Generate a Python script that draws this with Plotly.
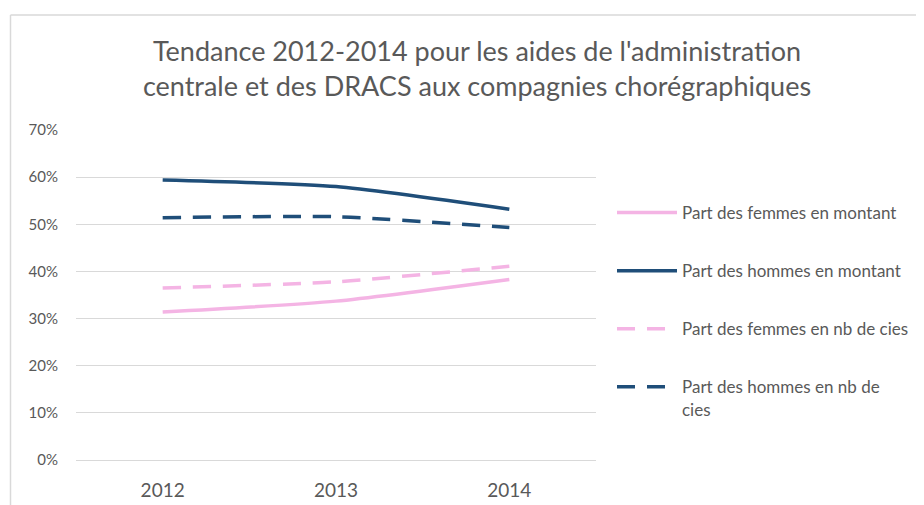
import plotly.graph_objects as go

years = ["2012", "2013", "2014"]
femmes_montant = [0.314, 0.337, 0.383]
hommes_montant = [0.594, 0.580, 0.532]
femmes_nb = [0.365, 0.378, 0.411]
hommes_nb = [0.514, 0.516, 0.493]
series_names = [
    "Part des femmes en montant",
    "Part des hommes en montant",
    "Part des femmes en nb de cies",
    "Part des hommes en nb de<br>cies",
]
y_ticks = [0, 0.1, 0.2, 0.3, 0.4, 0.5, 0.6, 0.7]

PINK = "#F4B4E4"
NAVY = "#1F4E79"
GRAY = "#595959"
FONT = "Lato"

fig = go.Figure()
styles = [
    (femmes_montant, PINK, "solid"),
    (hommes_montant, NAVY, "solid"),
    (femmes_nb, PINK, "18px,12px"),
    (hommes_nb, NAVY, "18px,12px"),
]
for i, (vals, col, dash) in enumerate(styles):
    fig.add_trace(go.Scatter(
        x=years, y=vals, mode="lines", name=series_names[i],
        legendgroup=f"g{i}",
        line=dict(color=col, width=3.5, dash=dash, shape="spline", smoothing=0.6),
    ))

OFF = 8  # page body margin
W, H = 924 - OFF, 505 - OFF
L, T = 76 - OFF, 130 - OFF
R = W - (596 - OFF)
B = H - (460 - OFF)
pw, ph = W - L - R, H - T - B


def px_x(x):
    return (x - OFF - L) / pw


def px_y(y):
    return (H - B - (y - OFF)) / ph


fig.update_layout(
    width=W, height=H,
    margin=dict(l=L, r=R, t=T, b=B, autoexpand=False),
    paper_bgcolor="white", plot_bgcolor="white",
    font=dict(family=FONT, color=GRAY),
    title=dict(
        text="Tendance 2012-2014 pour les aides de l'administration<br>centrale et des DRACS aux compagnies chorégraphiques",
        font=dict(size=27, color=GRAY, family=FONT),
        x=px_x(477), xref="paper", xanchor="center",
        y=1 - 53 / H, yref="container", yanchor="top",
    ),
    xaxis=dict(
        type="category", range=[-0.5, 2.5], showgrid=False, showline=False,
        ticks="", tickfont=dict(size=19, color=GRAY), ticklabelstandoff=17,
        automargin=False,
    ),
    yaxis=dict(
        range=[0, 0.7], tickvals=y_ticks, tickformat=".0%",
        showgrid=True, gridcolor="#D9D9D9", gridwidth=1,
        zeroline=True, zerolinecolor="#D9D9D9", zerolinewidth=1,
        showline=False, ticks="", tickfont=dict(size=15, color=GRAY),
        ticklabelstandoff=17, automargin=False,
    ),
    legend=dict(
        x=px_x(612), xanchor="left", y=px_y(195), yanchor="top",
        font=dict(size=17, color=GRAY, family=FONT),
        tracegroupgap=33, valign="top", itemwidth=60,
        bgcolor="rgba(0,0,0,0)",
    ),
    showlegend=True,
    shapes=[
        dict(type="line", xref="paper", yref="paper",
             x0=px_x(10.5), x1=px_x(10.5),
             y0=px_y(505), y1=px_y(15),
             line=dict(color="#D9D9D9", width=1.5)),
        dict(type="line", xref="paper", yref="paper",
             x0=px_x(10.5), x1=px_x(924),
             y0=px_y(15), y1=px_y(15),
             line=dict(color="#D9D9D9", width=1.5)),
    ],
)

fig.write_html("out.html")
